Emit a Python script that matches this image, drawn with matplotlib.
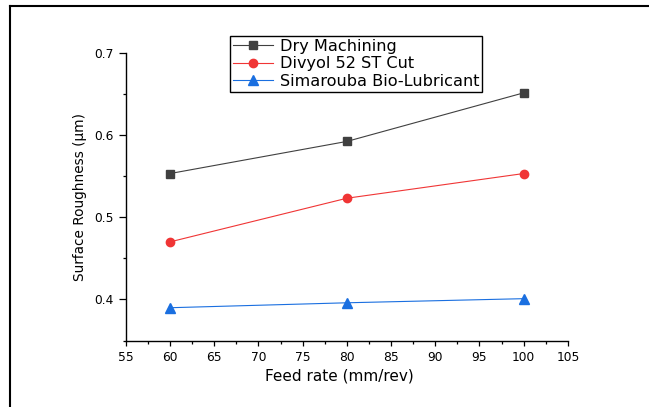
import numpy as np
import matplotlib
matplotlib.use("Agg")
import matplotlib.pyplot as plt
from matplotlib.lines import Line2D
from matplotlib.ticker import MultipleLocator

plt.rcParams['font.family'] = ['DejaVu Sans']

# Datos
feed_rate = [60, 80, 100]
dry = [0.553, 0.592, 0.651]
divyol = [0.470, 0.523, 0.553]
simarouba = [0.390, 0.396, 0.401]

fig = plt.figure(figsize=(6.49, 4.07), dpi=100)
ax = fig.add_axes([0.194, 0.163, 0.681, 0.708])

ax.plot(feed_rate, dry, color='#404040', marker='s', markersize=5.5, linewidth=0.8,
        label='Dry Machining')
ax.plot(feed_rate, divyol, color='#f03535', marker='o', markersize=6, linewidth=0.8,
        label='Divyol 52 ST Cut')
ax.plot(feed_rate, simarouba, color='#1a6fe0', marker='^', markersize=6.5, linewidth=0.8,
        label='Simarouba Bio-Lubricant')

ax.set_xlim(55, 105)
ax.set_ylim(0.35, 0.7)
ax.xaxis.set_major_locator(MultipleLocator(5))
ax.xaxis.set_minor_locator(MultipleLocator(2.5))
ax.yaxis.set_minor_locator(MultipleLocator(0.05))
ax.set_yticks([0.4, 0.5, 0.6, 0.7])
ax.set_yticklabels(['0.4', '0.5', '0.6', '0.7'])

ax.spines['top'].set_visible(False)
ax.spines['right'].set_visible(False)
for s in ['left', 'bottom']:
    ax.spines[s].set_linewidth(1.0)

ax.tick_params(which='major', direction='out', width=0.9, labelsize=8.8)
ax.tick_params(axis='x', which='major', length=3.6, pad=4)
ax.tick_params(axis='y', which='major', length=5, pad=3.5)
ax.tick_params(axis='x', which='minor', direction='out', length=1.8, width=0.9)
ax.tick_params(axis='y', which='minor', direction='out', length=2.5, width=0.9)

ax.set_xlabel('Feed rate (mm/rev)', fontsize=11)
ax.xaxis.set_label_coords(0.482, -0.098)
ax.set_ylabel('Surface Roughness (µm)', fontsize=9.8, labelpad=5.5)

leg = ax.legend(loc='upper left', bbox_to_anchor=(0.235, 1.058), fontsize=11.6,
                frameon=True, fancybox=False, edgecolor='black', framealpha=1,
                handlelength=2.5, handletextpad=0.4, borderpad=0.2, labelspacing=0.15,
                borderaxespad=0)
leg.get_frame().set_linewidth(1.0)

# marco exterior
fig.add_artist(Line2D([0.015, 1.0], [0.985, 0.985], color='black', linewidth=1.5,
                      transform=fig.transFigure))
fig.add_artist(Line2D([0.015, 0.015], [0.0, 0.985], color='black', linewidth=1.5,
                      transform=fig.transFigure))

fig.savefig('out.png', dpi=100)
